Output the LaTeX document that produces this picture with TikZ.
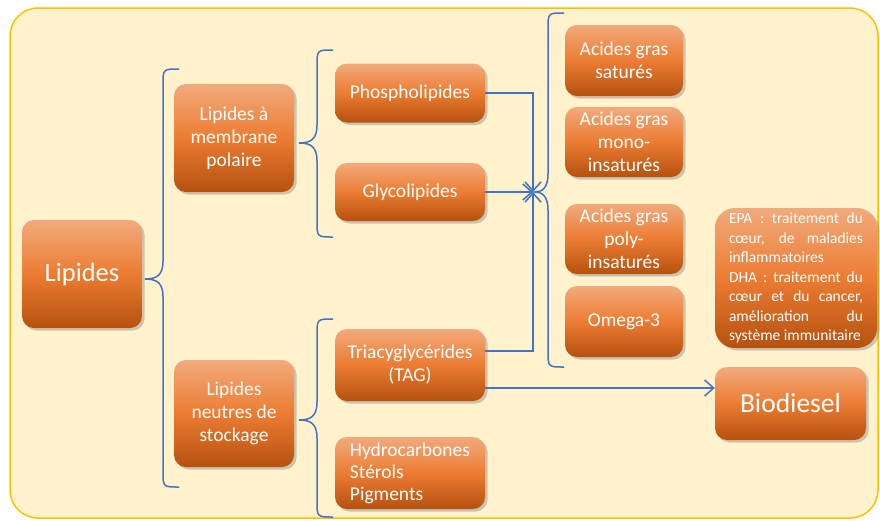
\documentclass[tikz,border=0pt]{standalone}
\usepackage{fontspec}
\setmainfont{Carlito}
\usetikzlibrary{arrows.meta,shadows,calc}
\definecolor{bgfill}{HTML}{FFF2CC}
\definecolor{bgline}{HTML}{FFC000}
\definecolor{lineblue}{HTML}{4472C4}
\definecolor{otop}{HTML}{F2AA7C}
\definecolor{omid}{HTML}{EC7C32}
\definecolor{obot}{HTML}{B5510F}
\newcommand\mybrace[5]{%
  \draw[conn] (#1+16,#2) .. controls (#1,#2) and (#1,#2) .. (#1,#2+16)
    -- (#1,#5-18) .. controls (#1,#5-4) and (#1-6,#5) .. (#4,#5)
    .. controls (#1-6,#5) and (#1,#5+4) .. (#1,#5+18)
    -- (#1,#3-16) .. controls (#1,#3) and (#1,#3) .. (#1+16,#3);}
\begin{document}
\begin{tikzpicture}[x=1pt,y=-1pt,
  box/.style={rectangle, rounded corners=12pt, top color=otop, bottom color=obot,
    middle color=omid, text=white, align=center, inner sep=2pt,
    drop shadow={shadow xshift=2.5pt,shadow yshift=-2.5pt,opacity=0.4},
    font=\fontsize{19.5}{23}\selectfont},
  conn/.style={draw=lineblue, line width=1.5pt},
  arr/.style={conn, -{Straight Barb[length=9pt,width=16pt]}}]
\useasboundingbox (0,0) rectangle (880,520);
\fill[white] (0,0) rectangle (880,520);
\draw[fill=bgfill, draw=bgline, line width=1.5pt, rounded corners=28pt] (10,8) rectangle (878,518);

% nodes
\node[box, minimum width=120pt, minimum height=108pt, font=\fontsize{26.5}{30}\selectfont] (lip) at (82,274) {\raisebox{-3pt}{Lipides}};
\node[box, minimum width=120pt, minimum height=108pt] (mem) at (234,138) {Lipides à\\membrane\\polaire};
\node[box, minimum width=120pt, minimum height=107pt] (neu) at (234,413.5) {Lipides\\neutres de\\stockage};
\node[box, minimum width=150pt, minimum height=59pt] (pho) at (410,93) {Phospholipides};
\node[box, minimum width=150pt, minimum height=58pt] (gly) at (410,192) {Glycolipides};
\node[box, minimum width=150pt, minimum height=72pt] (tag) at (410,365) {Triacyglycérides\\(TAG)};
\node[box, minimum width=150pt, minimum height=72pt, align=left, font=\fontsize{19.5}{22}\selectfont] (hyd) at (410,473) {Hydrocarbones\\Stérols\\Pigments};
\node[box, minimum width=118pt, minimum height=71pt] (ags) at (624,60.5) {Acides gras\\saturés};
\node[box, minimum width=118pt, minimum height=70pt] (agm) at (624,142) {Acides gras\\mono-\\insaturés};
\node[box, minimum width=118pt, minimum height=70pt] (agp) at (624,239) {Acides gras\\poly-\\insaturés};
\node[box, minimum width=118pt, minimum height=71pt] (ome) at (624,321.5) {Omega-3};
\node[box, rounded corners=20pt, minimum width=162pt, minimum height=140pt, text width=134pt, align=justify,
  font=\fontsize{15.5}{19.5}\selectfont] (epa) at (796,278)
  {EPA : traitement du\linebreak cœur, de maladies\linebreak inflammatoires\newline
   DHA : traitement du\linebreak cœur et du cancer,\linebreak amélioration du\linebreak système immunitaire};
\node[box, minimum width=151pt, minimum height=73pt, font=\fontsize{27.5}{31}\selectfont] (bio) at (790.5,403.5) {Biodiesel};

% braces
\mybrace{163}{69}{487}{145}{279}
\mybrace{317}{50}{237}{299}{143}
\mybrace{317}{319}{517}{299}{420}
\mybrace{548}{13}{367}{535}{192}

% connectors
\coordinate (hub) at (533,192);
\draw[arr] (pho.east) -| (hub);
\draw[arr] (gly.east) -- (hub);
\draw[arr] ($(tag.east)+(0,-14)$) -| (hub);
\coordinate (tb) at ($(tag.east)+(0,23)$);
\draw[arr] (tb) -- (tb -| bio.west);
\end{tikzpicture}
\end{document}
